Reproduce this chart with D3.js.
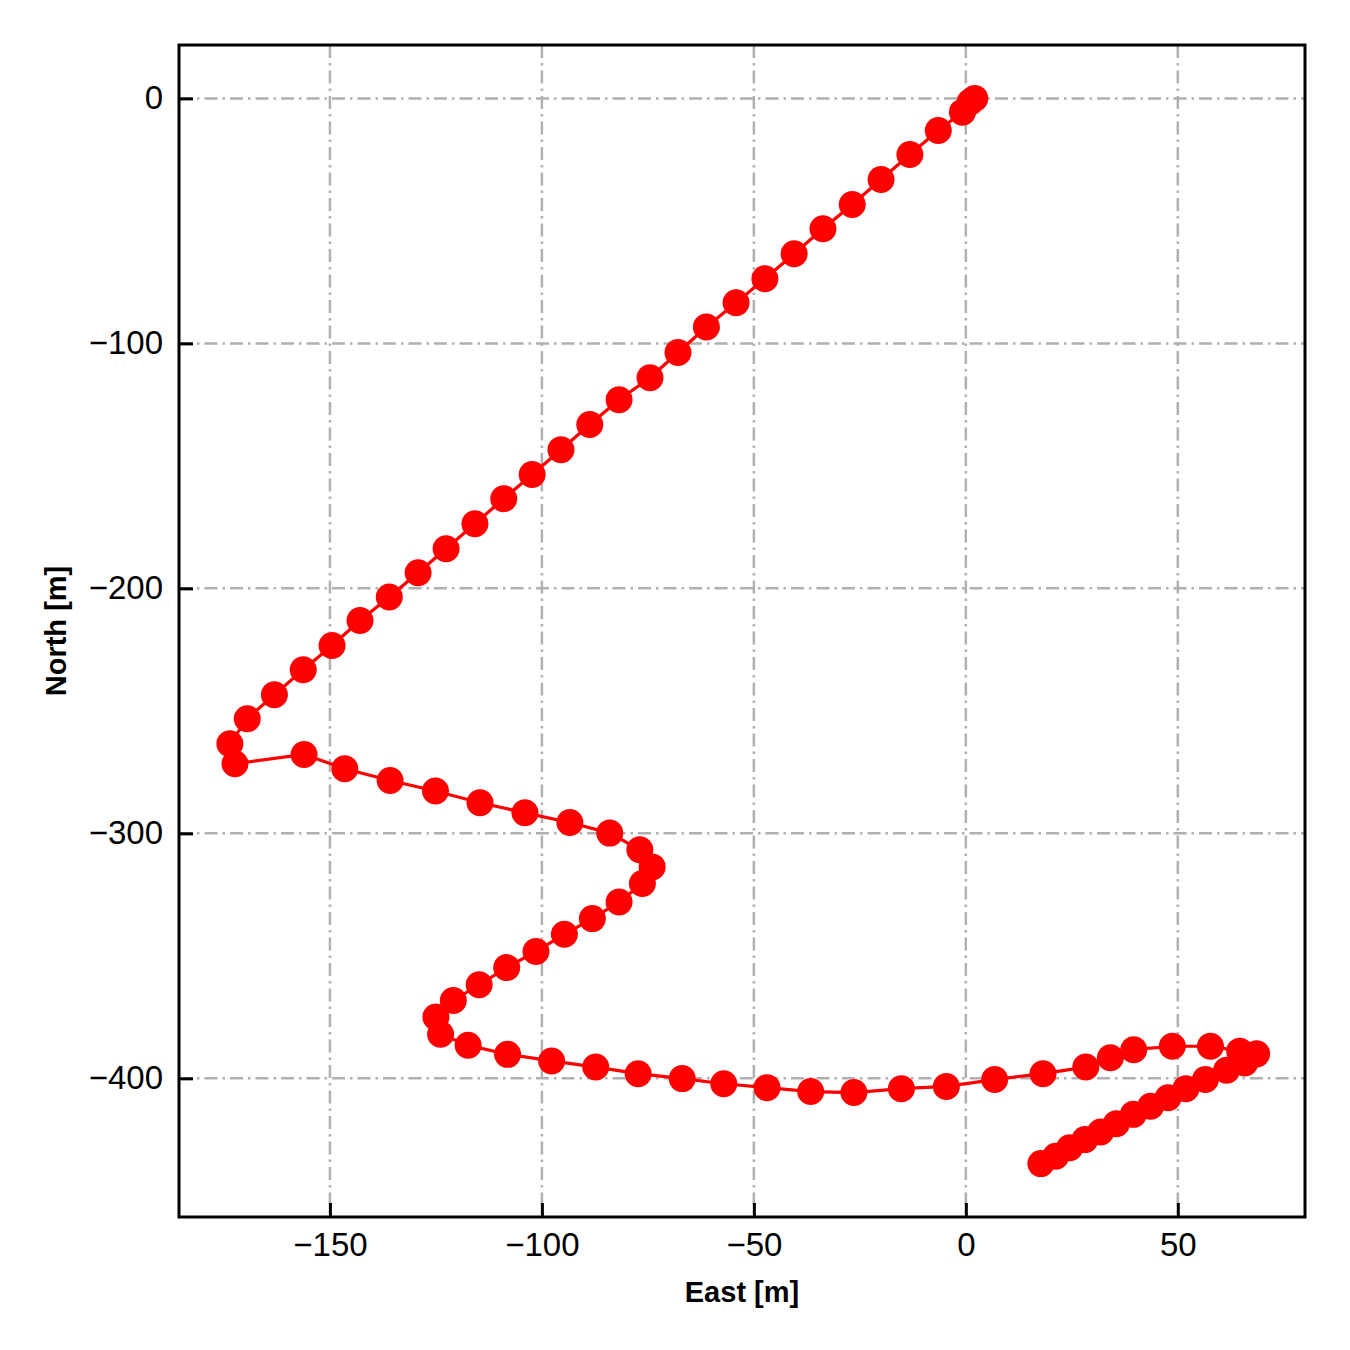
<!DOCTYPE html>
<html>
<head>
<meta charset="utf-8">
<script src="https://cdn.jsdelivr.net/npm/d3@7"></script>
<style>
  html, body { margin: 0; padding: 0; background: #fff; }
  svg { display: block; }
</style>
</head>
<body>
<script>
const east = [2.1, 1.0, -0.8, -6.5, -13.2, -20.0, -26.8, -33.7, -40.5, -47.4, -54.2, -61.2, -67.9, -74.5, -81.8,
  -88.7, -95.5, -102.3, -109.0, -115.8, -122.6, -129.2, -136.0, -142.9, -149.5, -156.3, -163.1, -169.5, -173.6, -172.4,
  -156.1, -146.5, -135.8, -125.1, -114.6, -104.0, -93.4, -84.0, -76.9, -74.0, -76.3, -81.8, -88.1, -94.7, -101.4,
  -108.3, -114.8, -120.9, -125.0, -123.9, -117.4, -108.1, -97.7, -87.3, -77.3, -66.9, -57.1, -46.9, -36.6, -26.4,
  -15.2, -4.6, 6.8, 18.2, 28.3, 34.1, 39.6, 48.7, 57.7, 64.6, 68.6, 65.8, 61.5, 56.5, 51.9,
  47.7, 43.6, 39.5, 35.5, 31.8, 28.1, 24.5, 21.2, 17.7];
const north = [0.0, -1.5, -5.6, -13.1, -22.9, -33.1, -43.3, -53.2, -63.4, -73.6, -83.4, -93.3, -103.7, -114.0, -123.0,
  -133.1, -143.4, -153.5, -163.4, -173.6, -183.8, -193.6, -203.5, -213.1, -223.3, -233.2, -243.4, -253.2, -263.4, -271.6,
  -267.8, -273.6, -278.4, -282.7, -287.5, -291.6, -295.6, -299.9, -306.7, -313.7, -320.5, -328.0, -334.8, -341.2, -348.2,
  -354.8, -361.8, -368.2, -375.0, -382.0, -386.5, -390.2, -392.9, -395.4, -398.1, -400.1, -402.2, -403.8, -405.4, -405.8,
  -404.2, -403.3, -400.5, -398.1, -395.4, -391.6, -388.3, -386.9, -386.9, -388.9, -390.0, -393.7, -396.7, -400.5, -404.2,
  -407.9, -411.4, -414.7, -418.5, -421.9, -425.0, -428.3, -431.8, -434.8];
const xTicks = [-150, -100, -50, 0, 50];
const yTicks = [0, -100, -200, -300, -400];
const xDomain = [-185.6, 80.0];
const yDomain = [-456.6, 21.8];
const xLabel = "East [m]";
const yLabel = "North [m]";

const W = 1350, H = 1350;
const L = 179, R = 1305, T = 45, B = 1217;

const svg = d3.select("body").append("svg").attr("width", W).attr("height", H)
  .style("font-family", "'Liberation Sans', Arial, sans-serif");
svg.append("rect").attr("width", W).attr("height", H).attr("fill", "#fff");

const x = d3.scaleLinear().domain(xDomain).range([L, R]);
const y = d3.scaleLinear().domain(yDomain).range([B, T]);

// grid
const grid = svg.append("g");
grid.selectAll("line.gx").data(xTicks).join("line")
  .attr("x1", d => x(d)).attr("x2", d => x(d)).attr("y1", T).attr("y2", B)
  .attr("stroke", "#b0b0b0").attr("stroke-width", 2.5).attr("stroke-dasharray", "13,5,2.5,5");
grid.selectAll("line.gy").data(yTicks).join("line")
  .attr("y1", d => y(d)).attr("y2", d => y(d)).attr("x1", L).attr("x2", R)
  .attr("stroke", "#b0b0b0").attr("stroke-width", 2.5).attr("stroke-dasharray", "13,5,2.5,5");

// data
const pts = east.map((e, i) => [e, north[i]]);
const clip = svg.append("clipPath").attr("id", "clip").append("rect")
  .attr("x", L).attr("y", T).attr("width", R - L).attr("height", B - T);
const plot = svg.append("g").attr("clip-path", "url(#clip)");
plot.append("path").datum(pts)
  .attr("d", d3.line().x(d => x(d[0])).y(d => y(d[1])))
  .attr("fill", "none").attr("stroke", "#ff0000").attr("stroke-width", 3.2);
plot.selectAll("circle").data(pts).join("circle")
  .attr("cx", d => x(d[0])).attr("cy", d => y(d[1])).attr("r", 13.5)
  .attr("fill", "#ff0000");

// axes
const fmt = d3.format("d");
const xAxis = d3.axisBottom(x).tickValues(xTicks).tickFormat(fmt).tickSizeInner(-14).tickSizeOuter(0).tickPadding(16);
const yAxis = d3.axisLeft(y).tickValues(yTicks).tickFormat(fmt).tickSizeInner(-14).tickSizeOuter(0).tickPadding(16);
const gx = svg.append("g").attr("transform", `translate(0,${B})`).call(xAxis);
const gy = svg.append("g").attr("transform", `translate(${L},0)`).call(yAxis);
[gx, gy].forEach(g => {
  g.select(".domain").remove();
  g.selectAll(".tick line").attr("stroke", "#000").attr("stroke-width", 3);
  g.selectAll(".tick text").attr("fill", "#000").style("font-size", "33px")
    .style("font-family", "'Liberation Sans', Arial, sans-serif");
});

// frame
svg.append("rect").attr("x", L).attr("y", T).attr("width", R - L).attr("height", B - T)
  .attr("fill", "none").attr("stroke", "#000").attr("stroke-width", 3);

// labels
svg.append("text").attr("x", (L + R) / 2).attr("y", 1302).attr("text-anchor", "middle")
  .style("font-size", "29px").style("font-weight", "bold").text(xLabel);
svg.append("text").attr("transform", `translate(66,${(T + B) / 2}) rotate(-90)`).attr("text-anchor", "middle")
  .style("font-size", "29px").style("font-weight", "bold").text(yLabel);
</script>
</body>
</html>
